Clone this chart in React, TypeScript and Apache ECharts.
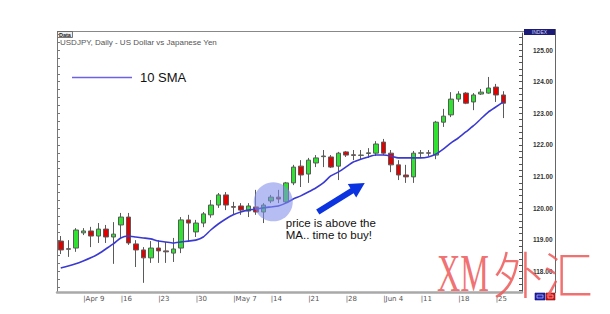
import React, { useEffect, useRef } from "react";
import * as echarts from "echarts";

// Trading days (two trailing days of the axis have no candle yet)
const dates = [
  "Apr 4", "Apr 5", "Apr 6", "Apr 9", "Apr 10", "Apr 11", "Apr 12", "Apr 13",
  "Apr 16", "Apr 17", "Apr 18", "Apr 19", "Apr 20", "Apr 23", "Apr 24", "Apr 25",
  "Apr 26", "Apr 27", "Apr 30", "May 1", "May 2", "May 3", "May 4", "May 7",
  "May 8", "May 9", "May 10", "May 11", "May 14", "May 15", "May 16", "May 17",
  "May 18", "May 21", "May 22", "May 23", "May 24", "May 25", "May 28", "May 29",
  "May 30", "May 31", "Jun 1", "Jun 4", "Jun 5", "Jun 6", "Jun 7", "Jun 8",
  "Jun 11", "Jun 12", "Jun 13", "Jun 14", "Jun 15", "Jun 18", "Jun 19", "Jun 20",
  "Jun 21", "Jun 22", "Jun 25", "Jun 26", "Jun 27", "Jun 28",
];

const opens = [
  118.96, 118.72, 118.74, 119.22, 119.28, 119.12, 119.34, 119.09, 119.47, 119.72,
  118.87, 118.68, 118.43, 118.74, 118.65, 118.58, 118.74, 119.63, 119.25, 119.53,
  119.79, 120.10, 120.42, 120.05, 120.07, 119.91, 120.04, 119.88, 120.23, 120.35,
  120.20, 120.80, 121.33, 121.08, 121.43, 121.63, 121.62, 121.33, 121.78, 121.69,
  121.67, 121.73, 121.74, 122.09, 121.74, 121.37, 121.05, 120.99, 121.74, 121.75,
  121.68, 122.72, 122.95, 123.45, 123.64, 123.36, 123.61, 123.64, 123.83, 123.58,
];
const closes = [
  118.68, 118.70, 119.31, 119.28, 119.12, 119.34, 119.09, 119.18, 119.72, 118.90,
  118.68, 118.43, 118.74, 118.65, 118.62, 118.71, 119.63, 119.53, 119.53, 119.82,
  120.10, 120.42, 120.10, 120.03, 119.94, 120.07, 119.88, 120.10, 120.35, 120.29,
  120.80, 121.30, 121.05, 121.52, 121.59, 121.65, 121.30, 121.74, 121.68, 121.67,
  121.68, 121.75, 122.03, 121.74, 121.37, 121.05, 120.99, 121.74, 121.75, 121.74,
  122.72, 122.91, 123.45, 123.61, 123.32, 123.58, 123.67, 123.80, 123.58, 123.32,
];
const lows = [
  118.55, 118.46, 118.62, 119.15, 118.77, 118.90, 118.90, 118.24, 119.03, 118.84,
  118.14, 117.64, 118.27, 118.27, 118.27, 118.30, 118.58, 118.93, 119.09, 119.40,
  119.70, 120.01, 119.94, 119.79, 119.79, 119.72, 119.79, 119.53, 120.16, 120.16,
  120.16, 120.73, 120.67, 120.80, 121.30, 121.30, 121.27, 120.89, 121.62, 121.52,
  121.55, 121.59, 121.65, 121.68, 121.14, 120.89, 120.80, 120.80, 121.62, 121.65,
  121.55, 122.57, 122.88, 123.36, 123.29, 123.10, 123.58, 123.62, 123.36, 122.85,
];
const highs = [
  119.12, 118.99, 119.37, 119.37, 119.41, 119.53, 119.47, 119.56, 119.85, 119.85,
  118.99, 118.77, 118.96, 118.99, 118.93, 119.06, 119.72, 119.79, 119.63, 119.88,
  120.26, 120.48, 120.51, 120.20, 120.16, 120.16, 120.58, 120.16, 120.42, 120.58,
  120.83, 121.37, 121.52, 121.59, 121.68, 121.84, 121.68, 121.78, 121.81, 121.84,
  121.84, 121.90, 122.12, 122.19, 121.84, 121.52, 121.37, 121.81, 121.84, 121.84,
  122.76, 123.14, 123.67, 123.70, 123.67, 123.64, 123.77, 124.15, 123.93, 123.70,
];
const sma10 = [
  118.11, 118.17, 118.24, 118.33, 118.43, 118.55, 118.71, 118.87, 119.06, 119.12,
  119.09, 119.06, 119.03, 118.96, 118.93, 118.90, 118.93, 118.96, 118.99, 119.09,
  119.31, 119.50, 119.66, 119.79, 119.88, 119.94, 119.97, 120.01, 120.04, 120.07,
  120.16, 120.29, 120.39, 120.51, 120.64, 120.80, 121.02, 121.14, 121.30, 121.46,
  121.55, 121.62, 121.68, 121.68, 121.65, 121.59, 121.59, 121.59, 121.59, 121.62,
  121.71, 121.87, 122.06, 122.22, 122.41, 122.60, 122.82, 123.04, 123.20, 123.36,
];

const tickDates = ["Apr 9", "Apr 16", "Apr 23", "Apr 30", "May 7", "May 14", "May 21", "May 28", "Jun 4", "Jun 11", "Jun 18", "Jun 25"];
const tickLabels = ["Apr 9", "16", "23", "30", "May 7", "14", "21", "28", "Jun 4", "11", "18", "25"];
const priceLabels = [118, 119, 120, 121, 122, 123, 124, 125];

const Y_MIN = 117.35;
const Y_MAX = 125.54;

const titleText = "USDJPY, Daily - US Dollar vs Japanese Yen";
const legendName = "10 SMA";
const noteText = "price is above the\nMA.. time to buy!";

// annotation anchors in data space
const circleAnchor = { date: "May 14", price: 120.2 };
const arrowTail = { date: "May 22", price: 119.88 };
const arrowTip = { date: "May 30", price: 120.8 };
const noteAnchor = { date: "May 16", price: 119.53 };

function makeTicks(step: number) {
  const out: number[] = [];
  const start = Math.ceil(Y_MIN / step) * step;
  for (let v = start; v <= Y_MAX + 1e-9; v += step) out.push(Math.round(v * 100) / 100);
  return out;
}

export default function App() {
  const ref = useRef<HTMLDivElement>(null);

  useEffect(() => {
    if (!ref.current) return;
    const chart = echarts.init(ref.current, null, { renderer: "svg" });
    const candleData = opens.map((o, i) => [o, closes[i], lows[i], highs[i]]);

    const option: any = {
      animation: false,
      backgroundColor: "#ffffff",
      title: {
        text: titleText,
        left: 55,
        top: 33,
        textStyle: { fontSize: 8, fontWeight: "normal", color: "#555", fontFamily: "Liberation Sans, Arial, sans-serif" },
      },
      legend: {
        data: [{ name: legendName, icon: "rect", itemStyle: { color: "#6c62e6" } }],
        left: 67,
        top: 66,
        itemWidth: 60,
        itemHeight: 1.5,
        selectedMode: false,
        textStyle: { fontSize: 13, color: "#111", fontFamily: "Liberation Sans, Arial, sans-serif", padding: [0, 0, 0, 3] },
      },
      grid: { left: 57, right: 88, top: 33, bottom: 22 },
      xAxis: {
        type: "category",
        data: dates,
        boundaryGap: true,
        axisLine: { show: true, lineStyle: { color: "#a9a9a9", width: 2.5 } },
        axisTick: { show: false },
        splitLine: { show: false },
        axisLabel: {
          interval: (_i: number, v: string) => tickDates.includes(v),
          formatter: (v: string) => "|" + tickLabels[tickDates.indexOf(v)],
          align: "left",
          margin: 3,
          fontSize: 7,
          fontFamily: "DejaVu Sans, Verdana, sans-serif",
          color: "#555",
        },
      },
      yAxis: [
        {
          type: "value",
          position: "right",
          min: Y_MIN,
          max: Y_MAX,
          scale: true,
          splitLine: { show: false },
          axisLine: { show: true, lineStyle: { color: "#555", width: 1 } },
          axisTick: { show: true, inside: true, length: 3, customValues: makeTicks(0.2), lineStyle: { color: "#555" } },
          axisLabel: {
            customValues: priceLabels,
            formatter: (v: number) => v.toFixed(2),
            margin: 11,
            fontSize: 6.5,
            fontWeight: "bold",
            color: "#333",
            fontFamily: "Liberation Sans, Arial, sans-serif",
          },
        },
        {
          type: "value",
          position: "left",
          min: Y_MIN,
          max: Y_MAX,
          scale: true,
          splitLine: { show: false },
          axisLine: { show: true, lineStyle: { color: "#777", width: 1 } },
          axisTick: { show: true, inside: true, length: 3, customValues: makeTicks(0.25), lineStyle: { color: "#777" } },
          axisLabel: { show: false },
        },
      ],
      series: [
        {
          type: "candlestick",
          name: "USDJPY",
          data: candleData,
          barWidth: 5,
          itemStyle: {
            color: "#2fe22f",
            color0: "#e00000",
            borderColor: "#5a5a5a",
            borderColor0: "#5a5a5a",
            borderWidth: 1,
          },
        },
        {
          type: "line",
          name: legendName,
          data: sma10,
          showSymbol: false,
          symbol: "none",
          smooth: 0.2,
          lineStyle: { color: "#3a3ad2", width: 1.6 },
          itemStyle: { color: "#3a3ad2" },
          z: 3,
        },
      ],
    };
    chart.setOption(option);

    const px = (a: { date: string; price: number }) =>
      chart.convertToPixel({ xAxisIndex: 0, yAxisIndex: 0 }, [a.date, a.price]) as number[];

    const c = px(circleAnchor);
    const t0 = px(arrowTail);
    const h0 = px(arrowTip);
    const T = [t0[0] + 2, t0[1]];
    const H = [h0[0] + 4, h0[1]];
    const dx = H[0] - T[0];
    const dy = H[1] - T[1];
    const len = Math.sqrt(dx * dx + dy * dy);
    const u = [dx / len, dy / len];
    const n = [-u[1], u[0]];
    const headLen = 15;
    const shaft = 3;
    const head = 8;
    const B = [H[0] - u[0] * headLen, H[1] - u[1] * headLen];
    const pt = (p: number[], k: number) => [p[0] + n[0] * k, p[1] + n[1] * k];
    const arrowPts = [pt(T, shaft), pt(B, shaft), pt(B, head), H, pt(B, -head), pt(B, -shaft), pt(T, -shaft)];
    const note = px(noteAnchor);

    const redMark = "rgba(238,88,88,0.85)";

    chart.setOption({
      graphic: [
        // frame
        { type: "line", shape: { x1: 57, y1: 31.5, x2: 524, y2: 31.5 }, style: { stroke: "#888", lineWidth: 1 }, silent: true },
        { type: "line", shape: { x1: 555.5, y1: 29, x2: 555.5, y2: 293 }, style: { stroke: "#666", lineWidth: 1 }, silent: true },
        { type: "line", shape: { x1: 57.5, y1: 31, x2: 57.5, y2: 33 }, style: { stroke: "#777", lineWidth: 1 }, silent: true },
        // Data box
        { type: "rect", shape: { x: 57.5, y: 31.5, width: 15, height: 6 }, style: { fill: "#eee", stroke: "#555", lineWidth: 0.8 }, silent: true },
        { type: "text", x: 59, y: 34.8, style: { text: "Data", fontSize: 5.5, fontWeight: "bold", fill: "#222", verticalAlign: "middle", fontFamily: "Liberation Sans, Arial" }, silent: true },
        // INDEX box
        { type: "rect", shape: { x: 524, y: 29, width: 31, height: 6 }, style: { fill: "#1c1c78" }, silent: true },
        { type: "text", x: 539.5, y: 32, style: { text: "INDEX", fontSize: 5, fill: "#cfd3ff", align: "center", verticalAlign: "middle", fontFamily: "Liberation Sans, Arial" }, silent: true },
        // small icons bottom right
        { type: "rect", shape: { x: 535, y: 293, width: 10, height: 7 }, style: { fill: "#2222b8", stroke: "#111170", lineWidth: 0.6 }, silent: true },
        { type: "rect", shape: { x: 537, y: 295, width: 6, height: 3 }, style: { fill: "none", stroke: "#ddd", lineWidth: 0.6 }, silent: true },
        { type: "rect", shape: { x: 546, y: 293, width: 9, height: 7 }, style: { fill: "#d81818", stroke: "#801010", lineWidth: 0.6 }, silent: true },
        { type: "rect", shape: { x: 548, y: 295, width: 5, height: 3 }, style: { fill: "none", stroke: "#fdd", lineWidth: 0.6 }, silent: true },
        // highlight circle
        { type: "circle", shape: { cx: c[0] + 2.5, cy: c[1], r: 19.5 }, style: { fill: "rgba(130,142,232,0.58)" }, z: 50, silent: true },
        // arrow
        { type: "polygon", shape: { points: arrowPts }, style: { fill: "#0b33e0" }, z: 50, silent: true },
        // note
        {
          type: "text",
          x: note[0],
          y: note[1] + 6,
          z: 50,
          style: { text: noteText, fontSize: 11.5, lineHeight: 12.5, fill: "#111", align: "left", verticalAlign: "middle", fontFamily: "Liberation Sans, Arial, sans-serif" },
          silent: true,
        },
        // watermark
        { type: "text", x: 437, y: 273, scaleX: 0.62, z: 100, style: { text: "XM", fontSize: 52, fontFamily: "Liberation Serif, DejaVu Serif, serif", fill: redMark, verticalAlign: "middle", align: "left" }, silent: true },
        { type: "text", x: 493, y: 272, z: 100, style: { text: "外汇", fontSize: 50, fontFamily: "Noto Sans CJK SC", fontWeight: 300, fill: redMark, verticalAlign: "middle", align: "left" }, silent: true },
      ],
    });

    return () => chart.dispose();
  }, []);

  return <div ref={ref} style={{ position: "fixed", left: 0, top: 0, width: 610, height: 314 }} />;
}
